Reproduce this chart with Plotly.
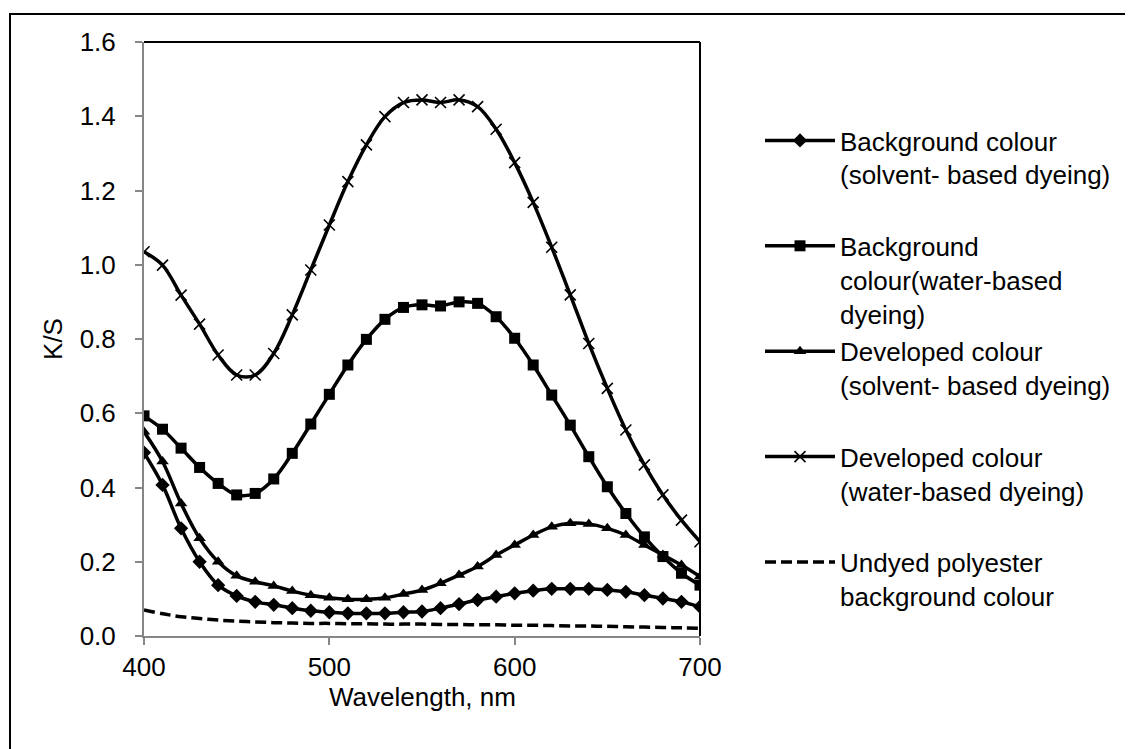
import plotly.graph_objects as go

wavelength = list(range(400, 701, 10))

bg_solvent = [0.494, 0.407, 0.290, 0.200, 0.137, 0.108, 0.092, 0.084, 0.075, 0.068,
              0.064, 0.061, 0.061, 0.061, 0.064, 0.066, 0.075, 0.086, 0.097, 0.106,
              0.115, 0.122, 0.127, 0.127, 0.127, 0.124, 0.119, 0.110, 0.101, 0.092, 0.079]

bg_water = [0.593, 0.557, 0.506, 0.454, 0.411, 0.380, 0.384, 0.423, 0.492, 0.571,
            0.651, 0.730, 0.799, 0.853, 0.885, 0.892, 0.889, 0.900, 0.896, 0.860,
            0.802, 0.730, 0.649, 0.568, 0.483, 0.402, 0.330, 0.267, 0.214, 0.169, 0.137]

dev_solvent = [0.550, 0.470, 0.357, 0.263, 0.200, 0.162, 0.146, 0.135, 0.121, 0.110,
               0.103, 0.099, 0.099, 0.103, 0.113, 0.124, 0.142, 0.164, 0.187, 0.218,
               0.245, 0.272, 0.294, 0.304, 0.302, 0.290, 0.272, 0.245, 0.218, 0.191, 0.160]

dev_water = [1.035, 0.999, 0.918, 0.840, 0.757, 0.703, 0.703, 0.761, 0.865, 0.986,
             1.107, 1.224, 1.323, 1.399, 1.437, 1.444, 1.437, 1.444, 1.426, 1.365,
             1.275, 1.168, 1.047, 0.919, 0.788, 0.667, 0.555, 0.461, 0.380, 0.312, 0.254]

undyed = [0.070, 0.060, 0.052, 0.047, 0.043, 0.040, 0.038, 0.036, 0.035, 0.034,
          0.034, 0.033, 0.033, 0.032, 0.032, 0.032, 0.031, 0.031, 0.030, 0.030,
          0.029, 0.029, 0.028, 0.027, 0.027, 0.026, 0.025, 0.024, 0.023, 0.022, 0.021]

series_names = [
    "Background colour<br>(solvent- based dyeing)<br> ",
    "Background<br>colour(water-based<br>dyeing)",
    "Developed colour<br>(solvent- based dyeing)<br> ",
    "Developed colour<br>(water-based dyeing)<br> ",
    "Undyed polyester<br>background colour<br> ",
]

FONT = "Liberation Sans, Arial, sans-serif"
FS = 26
W, H = 1133, 749
OFF = 8  # page body margin
L, R, T, B = 144 - OFF, 700 - OFF, 42 - OFF, 636 - OFF

fig = go.Figure()

def add_series(y, name, symbol, size, dash="solid", showmarker=True, mline=0):
    fig.add_trace(go.Scatter(
        x=wavelength, y=y, name=name, legendgroup=name,
        mode="lines+markers" if showmarker else "lines",
        line=dict(color="black", width=3.5, shape="spline", dash=dash),
        marker=dict(symbol=symbol, size=size, color="black",
                    line=dict(color="black", width=mline)),
    ))

add_series(bg_solvent, series_names[0], "diamond", 11)
add_series(bg_water, series_names[1], "square", 11)
add_series(dev_solvent, series_names[2], "triangle-up", 11)
add_series(dev_water, series_names[3], "x-thin", 11, mline=1.6)
add_series(undyed, series_names[4], "circle", 1, dash="11px,5px", showmarker=False)

def px_x(p):
    return (p - OFF - L) / (R - L)

def px_y(p):
    return (B - (p - OFF)) / (B - T)

shapes = [
    dict(type="line", xref="paper", yref="paper", x0=0, x1=1, y0=1, y1=1,
         line=dict(color="black", width=2)),
    dict(type="line", xref="paper", yref="paper", x0=1, x1=1, y0=0, y1=1,
         line=dict(color="black", width=2)),
    dict(type="rect", xref="paper", yref="paper",
         x0=px_x(10), x1=px_x(W + 30), y0=px_y(14), y1=px_y(H + 30),
         line=dict(color="black", width=2), fillcolor="rgba(0,0,0,0)"),
]

axis_common = dict(
    showgrid=False, zeroline=False, showline=True, linecolor="#868686", linewidth=2,
    ticks="outside", tickcolor="#868686", ticklen=7, tickwidth=1.5,
    tickfont=dict(family=FONT, size=FS, color="black"),
    title_font=dict(family=FONT, size=FS, color="black"),
)

fig.update_layout(
    width=W, height=H,
    margin=dict(l=L, r=W - R, t=T, b=H - B, autoexpand=False),
    paper_bgcolor="white", plot_bgcolor="white",
    font=dict(family=FONT, size=FS, color="black"),
    xaxis=dict(range=[400, 700], dtick=100, tick0=400,
               ticklabelstandoff=0, **axis_common),
    yaxis=dict(range=[0, 1.6], dtick=0.2, tick0=0, tickformat=".1f", title_text="K/S",
               title_standoff=10, ticklabelstandoff=14, **axis_common),
    annotations=[dict(text="Wavelength, nm", xref="paper", yref="paper",
                      x=0.5, y=px_y(697), xanchor="center", yanchor="middle",
                      showarrow=False, font=dict(family=FONT, size=FS, color="black"))],
    legend=dict(x=px_x(760), y=px_y(117), xanchor="left", yanchor="top",
                valign="top", tracegroupgap=1, itemwidth=70,
                font=dict(family=FONT, size=FS, color="black"),
                bgcolor="rgba(0,0,0,0)"),
    shapes=shapes,
    showlegend=True,
)

fig.write_html("out.html")
